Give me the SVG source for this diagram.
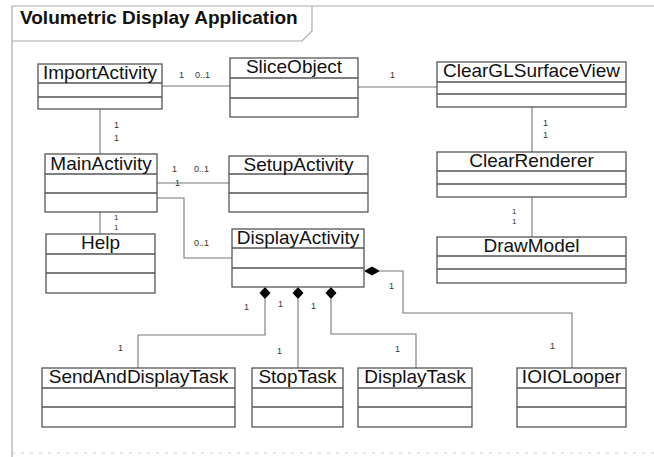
<svg xmlns="http://www.w3.org/2000/svg" width="654" height="457" viewBox="0 0 654 457">
<style>
.frame{fill:none;stroke:#aaa;stroke-width:1.2}
.box rect{fill:#fff;stroke:#555;stroke-width:1.3}
.box line{stroke:#555;stroke-width:1.3}
.name{font-family:"Liberation Sans",Arial,sans-serif;font-size:19px;fill:#111;text-anchor:middle}
.title{font-family:"Liberation Sans",Arial,sans-serif;font-size:19px;font-weight:bold;fill:#111}
.conn path{fill:none;stroke:#777;stroke-width:1.1}
.dia{fill:#000;stroke:none}
.lbl{font-family:"Liberation Sans",Arial,sans-serif;font-size:9px;fill:#333}
.sm{font-size:8px}
</style>
<rect width="654" height="457" fill="#fff"/>
<g id="frame">
<path class="frame" d="M12,457 V6 H654"/>
<path class="frame" d="M12,41 H302 L312,31 V6"/>
<path d="M12,453 H654" stroke="#ccc" stroke-width="1" stroke-dasharray="3,6" fill="none"/>
<text class="title" x="20" y="24">Volumetric Display Application</text>
</g>
<g class="conn" id="connectors">
<path d="M162,86 H230"/>
<path d="M358,87 H437"/>
<path d="M100,109 V154"/>
<path d="M532,107 V152"/>
<path d="M532,197 V237"/>
<path d="M157,183 H229"/>
<path d="M157,198 H184 V258 H232"/>
<path d="M100,212 V234"/>
<path d="M265,299 V335 H138 V368"/>
<path d="M298,299 V368"/>
<path d="M331,299 V334 H416 V368"/>
<path d="M380,271 H403 V313 H572 V368"/>
<polygon class="dia" points="265,287 270.5,293 265,299 259.5,293"/>
<polygon class="dia" points="298,287 303.5,293 298,299 292.5,293"/>
<polygon class="dia" points="331,287 336.5,293 331,299 325.5,293"/>
<polygon class="dia" points="364,271 372,266.5 380,271 372,275.5"/>
<text class="lbl" x="179" y="78">1</text>
<text class="lbl" x="195" y="78">0..1</text>
<text class="lbl" x="390" y="78">1</text>
<text class="lbl" x="114" y="128">1</text>
<text class="lbl" x="114" y="141">1</text>
<text class="lbl" x="543" y="126">1</text>
<text class="lbl" x="543" y="138">1</text>
<text class="lbl sm" x="512" y="214">1</text>
<text class="lbl sm" x="512" y="224">1</text>
<text class="lbl" x="172" y="172">1</text>
<text class="lbl" x="194" y="172">0..1</text>
<text class="lbl" x="175" y="186">1</text>
<text class="lbl" x="194" y="246">0..1</text>
<text class="lbl sm" x="114" y="220">1</text>
<text class="lbl sm" x="114" y="230">1</text>
<text class="lbl" x="244" y="310">1</text>
<text class="lbl" x="278" y="307">1</text>
<text class="lbl" x="311" y="309">1</text>
<text class="lbl" x="389" y="289">1</text>
<text class="lbl" x="118" y="351">1</text>
<text class="lbl" x="277" y="354">1</text>
<text class="lbl" x="395" y="352">1</text>
<text class="lbl" x="550" y="349">1</text>
</g>
<g class="box" id="ImportActivity">
<rect x="38" y="64" width="124" height="45"/>
<line x1="38" y1="83" x2="162" y2="83"/><line x1="38" y1="97" x2="162" y2="97"/>
<text class="name" x="100" y="79">ImportActivity</text>
</g>
<g class="box" id="SliceObject">
<rect x="230" y="58" width="128" height="59"/>
<line x1="230" y1="78" x2="358" y2="78"/><line x1="230" y1="98" x2="358" y2="98"/>
<text class="name" x="294" y="73">SliceObject</text>
</g>
<g class="box" id="ClearGLSurfaceView">
<rect x="437" y="62" width="189" height="45"/>
<line x1="437" y1="82" x2="626" y2="82"/><line x1="437" y1="94" x2="626" y2="94"/>
<text class="name" x="531.5" y="77">ClearGLSurfaceView</text>
</g>
<g class="box" id="MainActivity">
<rect x="45" y="154" width="112" height="58"/>
<line x1="45" y1="174" x2="157" y2="174"/><line x1="45" y1="193" x2="157" y2="193"/>
<text class="name" x="101" y="170">MainActivity</text>
</g>
<g class="box" id="SetupActivity">
<rect x="229" y="156" width="139" height="56"/>
<line x1="229" y1="174" x2="368" y2="174"/><line x1="229" y1="193" x2="368" y2="193"/>
<text class="name" x="298.5" y="171">SetupActivity</text>
</g>
<g class="box" id="ClearRenderer">
<rect x="437" y="152" width="189" height="45"/>
<line x1="437" y1="171" x2="626" y2="171"/><line x1="437" y1="184" x2="626" y2="184"/>
<text class="name" x="531.5" y="167">ClearRenderer</text>
</g>
<g class="box" id="Help">
<rect x="46" y="234" width="109" height="59"/>
<line x1="46" y1="254" x2="155" y2="254"/><line x1="46" y1="273" x2="155" y2="273"/>
<text class="name" x="100.5" y="249">Help</text>
</g>
<g class="box" id="DisplayActivity">
<rect x="232" y="229" width="132" height="58"/>
<line x1="232" y1="248" x2="364" y2="248"/><line x1="232" y1="268" x2="364" y2="268"/>
<text class="name" x="298" y="244">DisplayActivity</text>
</g>
<g class="box" id="DrawModel">
<rect x="437" y="237" width="189" height="46"/>
<line x1="437" y1="256" x2="626" y2="256"/><line x1="437" y1="269" x2="626" y2="269"/>
<text class="name" x="531.5" y="252">DrawModel</text>
</g>
<g class="box" id="SendAndDisplayTask">
<rect x="42" y="368" width="193" height="59"/>
<line x1="42" y1="388" x2="235" y2="388"/><line x1="42" y1="407" x2="235" y2="407"/>
<text class="name" x="138.5" y="383">SendAndDisplayTask</text>
</g>
<g class="box" id="StopTask">
<rect x="252" y="368" width="91" height="59"/>
<line x1="252" y1="388" x2="343" y2="388"/><line x1="252" y1="407" x2="343" y2="407"/>
<text class="name" x="297.5" y="383">StopTask</text>
</g>
<g class="box" id="DisplayTask">
<rect x="358" y="368" width="114" height="59"/>
<line x1="358" y1="388" x2="472" y2="388"/><line x1="358" y1="407" x2="472" y2="407"/>
<text class="name" x="415" y="383">DisplayTask</text>
</g>
<g class="box" id="IOIOLooper">
<rect x="517" y="368" width="109" height="59"/>
<line x1="517" y1="388" x2="626" y2="388"/><line x1="517" y1="407" x2="626" y2="407"/>
<text class="name" x="571.5" y="383">IOIOLooper</text>
</g>
</svg>
